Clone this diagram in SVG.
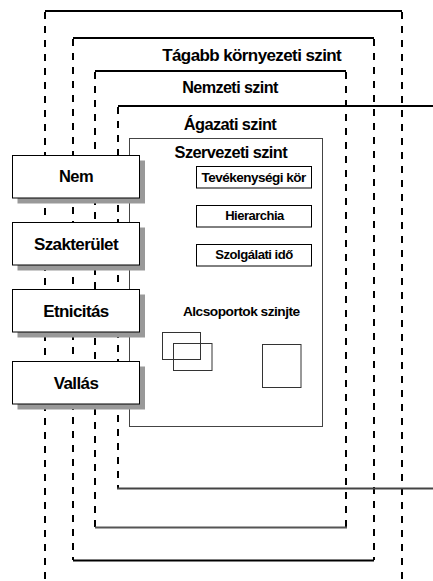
<svg xmlns="http://www.w3.org/2000/svg" width="433" height="581" viewBox="0 0 433 581">
<style>
.t{font-family:"Liberation Sans",Arial,sans-serif;fill:#000;font-weight:bold;text-anchor:middle;letter-spacing:-0.6px}
.s{letter-spacing:-0.5px}
.solid{stroke:#000;stroke-width:2;fill:none}
.dash{stroke:#000;stroke-width:2;fill:none;stroke-dasharray:7 7}
.box{fill:#fff;stroke:#000;stroke-width:1}
.shadow{fill:#999;stroke:none}
.thin{fill:none;stroke:#333;stroke-width:1}
</style>
<rect width="433" height="581" fill="#fff"/>
<g id="connectors">
<line class="solid" x1="45" y1="11" x2="402" y2="11"/>
<line class="dash" x1="45" y1="12" x2="45" y2="581"/>
<line class="dash" x1="402" y1="12" x2="402" y2="581"/>
<line class="solid" x1="73" y1="38" x2="374" y2="38"/>
<line class="dash" x1="73" y1="39" x2="73" y2="560"/>
<line class="dash" x1="374" y1="39" x2="374" y2="560"/>
<line class="solid" x1="73" y1="560.5" x2="374" y2="560.5"/>
<line class="solid" x1="95" y1="71" x2="346" y2="71"/>
<line class="dash" x1="95" y1="72" x2="95" y2="527"/>
<line class="dash" x1="346" y1="72" x2="346" y2="527"/>
<line x1="95" y1="527.5" x2="347" y2="527.5" stroke="#555" stroke-width="2"/>
<line class="solid" x1="118" y1="106" x2="433" y2="106"/>
<line class="dash" x1="118" y1="107" x2="118" y2="488"/>
<line x1="117" y1="488.5" x2="433" y2="488.5" stroke="#444" stroke-width="2"/>
</g>
<g id="level-labels">
<text class="t" x="251.7" y="60.5" font-size="17">Tágabb környezeti szint</text>
<text class="t" x="230" y="93.3" font-size="16.2">Nemzeti szint</text>
<text class="t" x="230" y="130" font-size="16.4">Ágazati szint</text>
</g>
<g id="szervezeti">
<rect x="129.5" y="138.5" width="193" height="288" fill="#fff" stroke="#444" stroke-width="1"/>
<text class="t" x="230.8" y="158.3" font-size="16.4">Szervezeti szint</text>
</g>
<g id="tevekenysegi">
<rect class="box" x="196.5" y="166.5" width="115" height="21.5"/>
<text class="t s" x="253.7" y="181.6" font-size="13.5">Tevékenységi kör</text>
</g>
<g id="hierarchia">
<rect class="box" x="196.5" y="205.5" width="115" height="21.5"/>
<text class="t s" x="254.5" y="219.5" font-size="13">Hierarchia</text>
</g>
<g id="szolgalati">
<rect class="box" x="196.5" y="244.5" width="115" height="21.5"/>
<text class="t s" x="254" y="258.5" font-size="13.1">Szolgálati idő</text>
</g>
<g id="alcsoportok">
<text class="t s" x="241.3" y="316" font-size="13.7">Alcsoportok szinjte</text>
<rect class="thin" x="162.5" y="332.5" width="38" height="27"/>
<rect class="thin" x="173.5" y="343.5" width="38.5" height="27"/>
<rect class="thin" x="262.5" y="344.5" width="38.5" height="43"/>
</g>
<g id="nem">
<rect class="shadow" x="17.5" y="160.5" width="127.5" height="43"/>
<rect class="box" x="12.5" y="155.5" width="127" height="42.5"/>
<text class="t" x="76" y="182.3" font-size="16.5" letter-spacing="-1.5">Nem</text>
</g>
<g id="szakterulet">
<rect class="shadow" x="17.5" y="227.5" width="127.5" height="43"/>
<rect class="box" x="12.5" y="222.5" width="127" height="42.5"/>
<text class="t" x="76" y="249.5" font-size="17">Szakterület</text>
</g>
<g id="etnicitas">
<rect class="shadow" x="17.5" y="294.5" width="127.5" height="43"/>
<rect class="box" x="12.5" y="289.5" width="127" height="42.5"/>
<text class="t" x="76" y="316.5" font-size="17">Etnicitás</text>
</g>
<g id="vallas">
<rect class="shadow" x="17.5" y="366.5" width="127.5" height="43"/>
<rect class="box" x="12.5" y="361.5" width="127" height="42.5"/>
<text class="t" x="76" y="388.5" font-size="17">Vallás</text>
</g>
</svg>
